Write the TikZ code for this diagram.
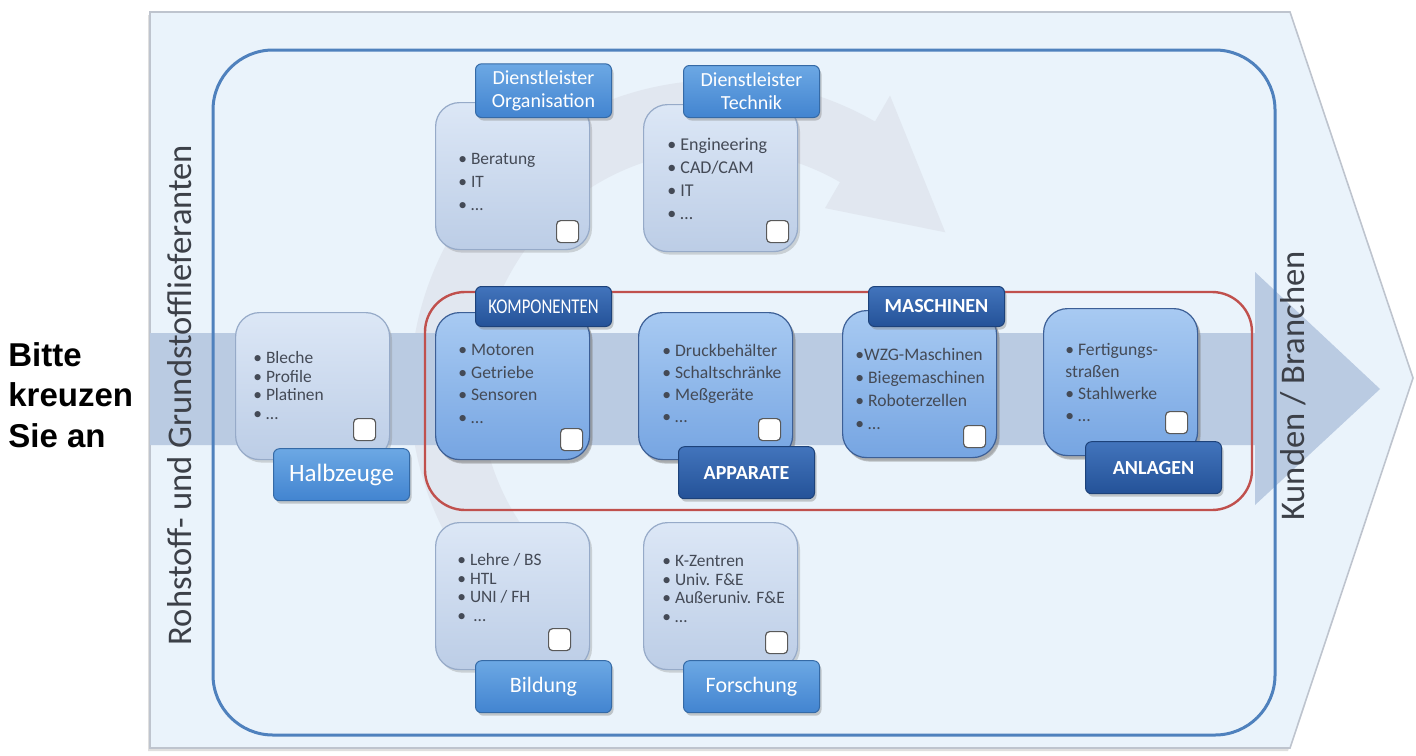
\documentclass[tikz,border=0pt]{standalone}
\usepackage{fontspec}
\setmainfont{Carlito}
\newfontfamily\notefont{Liberation Sans}
\usetikzlibrary{shadows,positioning,calc}
\definecolor{bgblue}{RGB}{234,243,251}
\definecolor{edgegray}{RGB}{190,196,206}
\definecolor{flowblue}{RGB}{186,203,226}
\definecolor{ringgray}{RGB}{225,231,240}
\definecolor{frameblue}{RGB}{79,129,189}
\definecolor{framered}{RGB}{192,80,77}
\definecolor{paletop}{RGB}{220,231,246}
\definecolor{palebot}{RGB}{188,205,230}
\definecolor{paleedge}{RGB}{150,170,200}
\definecolor{midtop}{RGB}{168,202,242}
\definecolor{midbot}{RGB}{118,165,226}
\definecolor{midedge}{RGB}{60,95,150}
\definecolor{tagtop}{RGB}{108,168,228}
\definecolor{tagbot}{RGB}{66,132,208}
\definecolor{darktop}{RGB}{66,116,188}
\definecolor{darkbot}{RGB}{36,82,152}
\definecolor{itemgray}{RGB}{68,74,86}
\definecolor{titlegray}{RGB}{60,64,72}

\newcommand{\tickbox}[3]{\node[tick, anchor=south east] (#1-c) at ([xshift=-#2pt, yshift=#3pt]#1.south east) {};}

\begin{document}
\begin{tikzpicture}[x=0.5pt, y=-0.5pt,
    palebox/.style={rectangle, rounded corners=12pt, minimum width=77pt,
      minimum height=73.5pt, top color=paletop, bottom color=palebot,
      draw=paleedge, line width=0.6pt, anchor=north west,
      drop shadow={shadow xshift=1.2pt, shadow yshift=-1.5pt, opacity=0.3}},
    midbox/.style={palebox, top color=midtop, bottom color=midbot, draw=midedge,
      drop shadow={shadow xshift=1.5pt, shadow yshift=-2pt, opacity=0.45}},
    tag/.style={rectangle, rounded corners=3pt, minimum width=68pt,
      minimum height=26pt, top color=tagtop, bottom color=tagbot,
      draw=tagbot!80!black, line width=0.5pt, text=white, align=center,
      drop shadow={shadow xshift=1pt, shadow yshift=-1.5pt, opacity=0.4}},
    darktag/.style={tag, top color=darktop, bottom color=darkbot,
      draw=darkbot!80!black, font=\fontsize{10}{12}\selectfont\bfseries},
    items/.style={anchor=north west, inner sep=0pt, align=left, text=itemgray,
      font=\fontsize{8.8}{11.25}\selectfont},
    smallitems/.style={items, font=\fontsize{8.7}{9.3}\selectfont},
    tick/.style={rectangle, rounded corners=2pt, minimum size=11pt, inner sep=0pt,
      fill=white, draw=black!65, line width=0.6pt},
    sidetext/.style={rotate=90, text=titlegray, font=\fontsize{17.3}{20}\selectfont}]
  \useasboundingbox (0,0) rectangle (1416,755);
  % background and flow
  \filldraw[fill=bgblue, draw=edgegray, line width=0.8pt,
    drop shadow={shadow xshift=-1pt, shadow yshift=-1.5pt, opacity=0.25}]
    (150,12) -- (1290,12) -- (1413,378) -- (1290,748) -- (150,748) -- cycle;
  \coordinate (ring) at (720,390);
  \fill[ringgray] ($(ring)+(140:310)$) arc[start angle=140, end angle=300, radius=310]
    -- ($(ring)+(300:340)$) -- ($(ring)+(325:275)$) -- ($(ring)+(300:210)$)
    -- ($(ring)+(300:240)$) arc[start angle=300, end angle=140, radius=240] -- cycle;
  \fill[flowblue] (150,333) -- (1255,333) -- (1255,272) -- (1380,389)
    -- (1255,505) -- (1255,445) -- (150,445) -- cycle;
  \draw[frameblue, line width=1.5pt, rounded corners=30pt] (213,50) rectangle (1275,735);
  \draw[framered, line width=1.2pt, rounded corners=20pt] (425,292) rectangle (1252,510);
  \node[sidetext] (supply) at (180,395) {Rohstoff- und Grundstofflieferanten};
  \node[sidetext] (clients) at (1293,386) {Kunden / Branchen};
  \node[anchor=west, align=left, inner sep=0pt,
    font=\notefont\bfseries\fontsize{16.5}{20.3}\selectfont] (note) at (8,395) {Bitte\\kreuzen\\Sie an};
  % boxes
  \node[palebox] (hz) at (235,312) {};
  \node[palebox] (org) at (435,102) {};
  \node[palebox] (tech) at (643,104) {};
  \node[midbox] (komp) at (435,312) {};
  \node[midbox] (app) at (638,312) {};
  \node[midbox] (masch) at (842,310) {};
  \node[midbox] (anl) at (1043,308) {};
  \node[palebox] (bild) at (435,522) {};
  \node[palebox] (forsch) at (643,522) {};
  \node[smallitems] at ([xshift=9pt, yshift=-19.5pt]hz.north west) {• Bleche\\• Profile\\• Platinen\\• …};
  \node[items, font=\fontsize{8.7}{11.5}\selectfont] at ([xshift=11.5pt, yshift=-25.5pt]org.north west) {• Beratung\\• IT\\• …};
  \node[items, font=\fontsize{9}{11.5}\selectfont] at ([xshift=12pt, yshift=-17pt]tech.north west) {• Engineering\\• CAD/CAM\\• IT\\• …};
  \node[items] at ([xshift=11.5pt, yshift=-16pt]komp.north west) {• Motoren\\• Getriebe\\• Sensoren\\• …};
  \node[items, font=\fontsize{8.8}{11}\selectfont] at ([xshift=12pt, yshift=-16pt]app.north west) {• Druckbehälter\\• Schaltschränke\\• Meßgeräte\\• …};
  \node[items, font=\fontsize{8.8}{11.5}\selectfont] at ([xshift=6.5pt, yshift=-19pt]masch.north west) {•WZG-Maschinen\\• Biegemaschinen\\• Roboterzellen\\• …};
  \node[items, font=\fontsize{8.8}{11}\selectfont] at ([xshift=11pt, yshift=-17.5pt]anl.north west) {• Fertigungs-\\straßen\\• Stahlwerke\\• …};
  \node[smallitems] at ([xshift=11pt, yshift=-15.5pt]bild.north west) {• Lehre / BS\\• HTL\\• UNI / FH\\• \ …};
  \node[smallitems] at ([xshift=9.5pt, yshift=-16.5pt]forsch.north west) {• K-Zentren\\• Univ. F\&E\\• Außeruniv. F\&E\\• …};
  % tags
  \node[tag, anchor=north west, font=\fontsize{12.5}{14}\selectfont] (hz-t) at ([xshift=19pt, yshift=6pt]hz.south west) {Halbzeuge};
  \node[tag, anchor=south west, font=\fontsize{10}{11.5}\selectfont] (org-t) at ([xshift=20pt, yshift=-8pt]org.north west) {Dienstleister\\Organisation};
  \node[tag, anchor=south west, font=\fontsize{10}{11.5}\selectfont] (tech-t) at ([xshift=20pt, yshift=-7pt]tech.north west) {Dienstleister\\Technik};
  \node[darktag, anchor=south west, minimum height=20pt, font=\fontsize{10.5}{12}\selectfont] (komp-t) at ([xshift=20pt, yshift=-7.5pt]komp.north west) {\scalebox{0.8}[1]{KOMPONENTEN}};
  \node[darktag, anchor=south west, minimum height=20pt] (masch-t) at ([xshift=13pt, yshift=-8.5pt]masch.north west) {MASCHINEN};
  \node[darktag, anchor=north west] (app-t) at ([xshift=20pt, yshift=7pt]app.south west) {APPARATE};
  \node[darktag, anchor=north west] (anl-t) at ([xshift=21pt, yshift=7.5pt]anl.south west) {ANLAGEN};
  \node[tag, anchor=north west, font=\fontsize{11}{13}\selectfont] (bild-t) at ([xshift=20pt, yshift=5pt]bild.south west) {Bildung};
  \node[tag, anchor=north west, font=\fontsize{11}{13}\selectfont] (forsch-t) at ([xshift=20pt, yshift=5pt]forsch.south west) {Forschung};
  % check boxes
  \tickbox{hz}{7}{9.5}
  \tickbox{org}{5.5}{3.5}
  \tickbox{tech}{4.5}{4.5}
  \tickbox{komp}{3.5}{4.5}
  \tickbox{app}{6}{9.5}
  \tickbox{masch}{5.5}{5}
  \tickbox{anl}{5}{11}
  \tickbox{bild}{9.5}{9.5}
  \tickbox{forsch}{5}{8}
\end{tikzpicture}
\end{document}
